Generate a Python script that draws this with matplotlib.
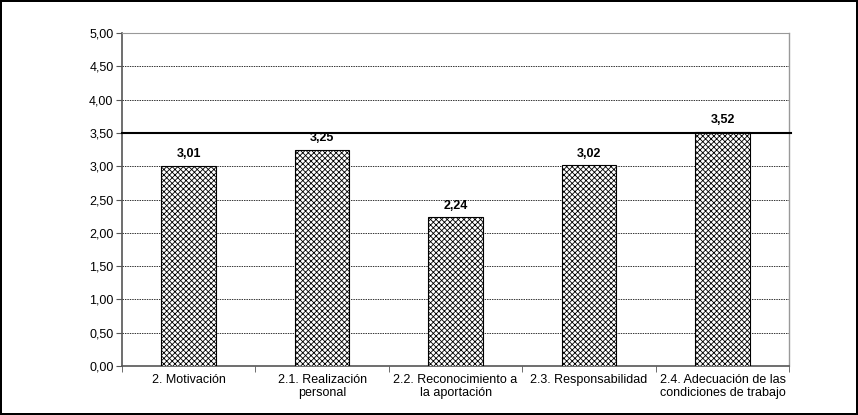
import matplotlib
matplotlib.use('Agg')
import matplotlib.pyplot as plt

plt.rcParams['font.family'] = ['Liberation Sans', 'DejaVu Sans']
plt.rcParams['hatch.linewidth'] = 0.6

# Datos
categorias = ['2. Motivación', '2.1. Realización\npersonal', '2.2. Reconocimiento a\nla aportación',
              '2.3. Responsabilidad', '2.4. Adecuación de las\ncondiciones de trabajo']
valores = [3.01, 3.25, 2.24, 3.02, 3.52]
referencia = 3.50
ticks_y = [0.0, 0.5, 1.0, 1.5, 2.0, 2.5, 3.0, 3.5, 4.0, 4.5, 5.0]

fig = plt.figure(figsize=(8.58, 4.15), dpi=100, edgecolor='black', linewidth=1.5)
ax = fig.add_axes([0.142, 0.118, 0.778, 0.802])

x = range(len(categorias))
barras = ax.bar(x, valores, width=0.41, color='white', edgecolor='black',
                hatch='xxxxxx', linewidth=0.8, zorder=3)

for xi, v in zip(x, valores):
    ax.text(xi, v + 0.08, f"{v:.2f}".replace('.', ','), ha='center', va='bottom',
            fontsize=9, fontweight='bold', zorder=4)

# Línea de referencia
ax.axhline(referencia, color='black', linewidth=1.5, zorder=4, clip_on=False,
           xmin=0, xmax=1.003)

ax.set_ylim(0, 5)
ax.set_xlim(-0.5, len(categorias) - 0.5)
ax.set_yticks(ticks_y)
ax.set_yticklabels([f"{t:.2f}".replace('.', ',') for t in ticks_y], fontsize=9)
ax.set_xticks(x)
ax.set_xticklabels(categorias, fontsize=9, linespacing=1.05)
ax.set_xticks([i - 0.5 for i in range(len(categorias) + 1)], minor=True)
ax.tick_params(axis='x', which='major', length=0, pad=6)
ax.tick_params(axis='x', which='minor', length=4, color='#555555')
ax.tick_params(axis='y', length=4, color='#555555', pad=2)

ax.grid(axis='y', linestyle=(0, (1.5, 1)), color='#333333', linewidth=0.7, zorder=0)

for lado in ['left', 'bottom']:
    ax.spines[lado].set_color('#555555')
    ax.spines[lado].set_linewidth(1.2)
ax.spines['right'].set_color('#999999')
ax.spines['top'].set_color('#999999')
ax.spines['right'].set_linewidth(1.0)
ax.spines['top'].set_linewidth(0.8)

fig.savefig('out.png', dpi=100, edgecolor=fig.get_edgecolor())
